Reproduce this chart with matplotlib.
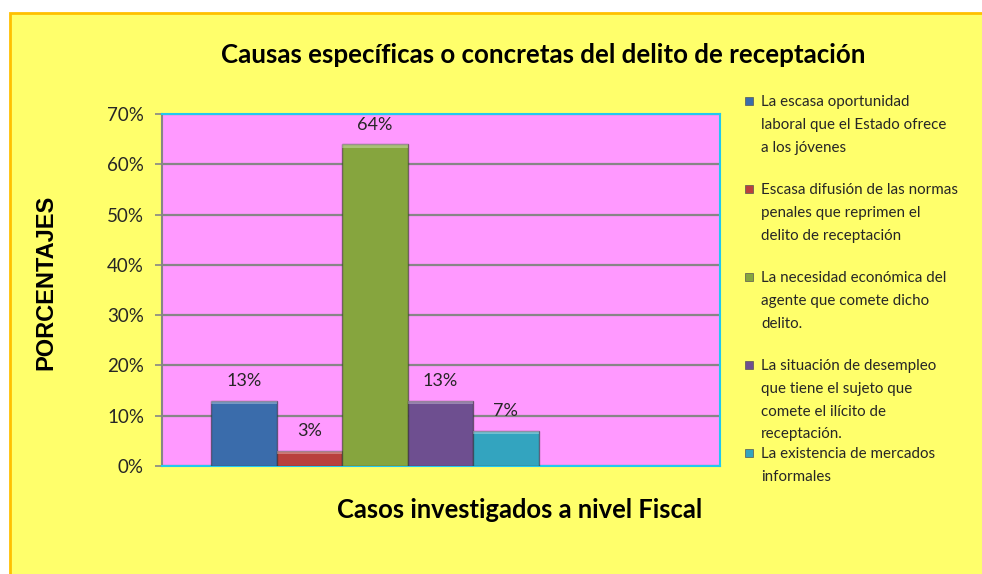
import matplotlib.pyplot as plt
from matplotlib.patches import Rectangle
from matplotlib.ticker import PercentFormatter

# data
causes = [
    "La escasa oportunidad\nlaboral que el Estado ofrece\na los jóvenes",
    "Escasa difusión de las normas\npenales que reprimen el\ndelito de receptación",
    "La necesidad económica del\nagente que comete dicho\ndelito.",
    "La situación de desempleo\nque tiene el sujeto que\ncomete el ilícito de\nreceptación.",
    "La existencia de mercados\ninformales",
]
values = [0.13, 0.03, 0.64, 0.13, 0.07]
value_labels = ["13%", "3%", "64%", "13%", "7%"]
colors = ["#3a6cab", "#b9403d", "#86a53e", "#6e4f90", "#33a4bf"]
yticks = [0, 0.1, 0.2, 0.3, 0.4, 0.5, 0.6, 0.7]

title = "Causas específicas o concretas del delito de receptación"
xlabel = "Casos investigados a nivel Fiscal"
ylabel = "PORCENTAJES"

W, H = 982, 574
fig = plt.figure(figsize=(W / 100, H / 100), dpi=100, facecolor="white")

# yellow chart area with orange border
fig.patches.append(Rectangle((10 / W, -0.01), 1.0, 1 - 13 / H + 0.01,
                             transform=fig.transFigure, facecolor="#ffff6b",
                             edgecolor="#ffc000", linewidth=2, zorder=0))

ax = fig.add_axes([162 / W, 1 - 466 / H, (720 - 162) / W, (466 - 114) / H])
ax.set_zorder(2)
ax.set_facecolor("#ff99ff")

xs = list(range(len(values)))
bars = ax.bar(xs, values, width=1.0, color=colors, edgecolor="#2a2a2a88",
              linewidth=1.0, zorder=3)
# light top strip for the bevel look
for b in bars:
    ax.add_patch(Rectangle((b.get_x(), b.get_height() - 0.007), b.get_width(), 0.007,
                           facecolor="white", alpha=0.3, linewidth=0, zorder=4))

for x, v, lab in zip(xs, values, value_labels):
    ax.annotate(lab, (x, v), xytext=(0, 14), textcoords="offset points",
                ha="center", va="center", fontsize=13, family="Lato", color="#262626")

ax.set_xlim(-1.25, 7.27)
ax.set_ylim(0, 0.7)
ax.set_yticks(yticks)
ax.yaxis.set_major_formatter(PercentFormatter(1.0, decimals=0))
ax.set_xticks([])
ax.grid(axis="y", color="#868686", linewidth=1.6, zorder=1)
ax.set_axisbelow(True)
ax.tick_params(axis="y", length=5, width=1.2, color="#868686", labelsize=13.5,
               labelcolor="#262626", pad=8)
for lab in ax.get_yticklabels():
    lab.set_family("Lato")

for side in ["top", "right", "bottom"]:
    ax.spines[side].set_color("#22c8f0")
    ax.spines[side].set_linewidth(1.5)
ax.spines["left"].set_color("#868686")
ax.spines["left"].set_linewidth(1.5)

fig.text(543 / W, 1 - 55 / H, title, ha="center", va="center",
         fontsize=18.6, fontweight="bold", family="Lato", color="black")
fig.text(520 / W, 1 - 510 / H, xlabel, ha="center", va="center",
         fontsize=18.4, fontweight="bold", family="Lato", color="black")
fig.text(46 / W, 1 - 282 / H, ylabel, ha="center", va="center", rotation=90,
         fontsize=17, fontweight="bold", family="Liberation Sans", color="black")

# legend drawn by hand, each entry takes the same slot height
leg_x, leg_y0, step = 761, 101, 88
for i, (lab, c) in enumerate(zip(causes, colors)):
    y = leg_y0 + i * step
    fig.patches.append(Rectangle((745 / W, 1 - (y + 4) / H), 8 / W, 8 / H,
                                 transform=fig.transFigure, facecolor=c,
                                 edgecolor="#555555", linewidth=0.5))
    fig.text(leg_x / W, 1 - (y - 6) / H, lab, ha="left", va="top",
             fontsize=10.9, family="Lato", color="#262626", linespacing=1.8)

fig.savefig("out.png", dpi=100, facecolor="white")
